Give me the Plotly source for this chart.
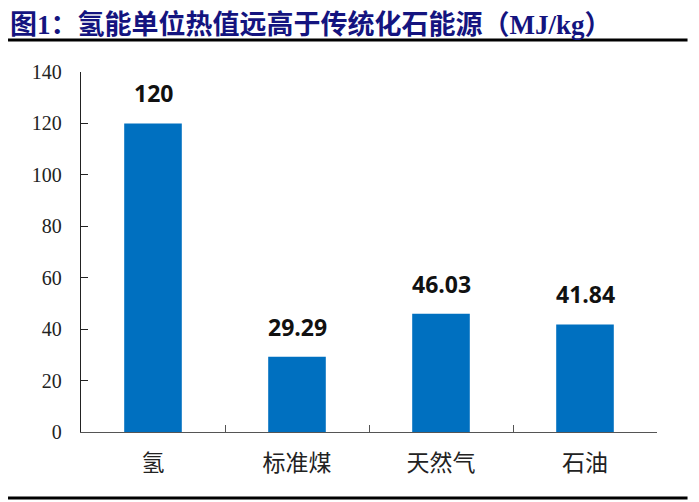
import plotly.graph_objects as go

# chart data
categories = ["氢", "标准煤", "天然气", "石油"]
values = [120, 29.29, 46.03, 41.84]
value_labels = ["120", "29.29", "46.03", "41.84"]
y_ticks = [0, 20, 40, 60, 80, 100, 120, 140]

BAR_BLUE = "#0070C0"
TITLE_NAVY = "#14147F"
AXIS_GREY = "#555555"

fig = go.Figure()

fig.add_trace(
    go.Bar(
        x=categories,
        y=values,
        marker=dict(color=BAR_BLUE, line=dict(width=0)),
        width=0.4,
        hoverinfo="x+y",
    )
)

# bold value labels above each bar
for cat, val, lab in zip(categories, values, value_labels):
    fig.add_annotation(
        x=cat, y=val, text=f"<b>{lab}</b>",
        showarrow=False, yanchor="bottom", yshift=12,
        font=dict(family="Open Sans, Liberation Sans, sans-serif", size=23, color="#111111"),
    )

# title and the two horizontal rules (paper coords reach past the plot area)
fig.add_annotation(
    xref="paper", yref="paper", x=-0.125, y=1.1775,
    xanchor="left", yanchor="top", showarrow=False, borderpad=0,
    text="<b>图1：氢能单位热值远高于传统化石能源（MJ/kg）</b>",
    font=dict(family="Liberation Serif, Noto Sans CJK SC, serif", size=27, color=TITLE_NAVY),
)
for yy in (1.089, -0.1833):
    fig.add_shape(
        type="line", xref="paper", yref="paper",
        x0=-0.1267, x1=1.053, y0=yy, y1=yy,
        line=dict(color="black", width=3),
    )

fig.update_layout(
    width=699,
    height=502,
    margin=dict(l=73, r=50, t=64, b=78),
    paper_bgcolor="white",
    plot_bgcolor="white",
    showlegend=False,
    xaxis=dict(
        type="category",
        showline=True, linecolor=AXIS_GREY, linewidth=1.3,
        ticks="inside", tickson="boundaries", ticklen=7, tickcolor=AXIS_GREY,
        showgrid=False,
        tickfont=dict(family="Noto Sans CJK SC, sans-serif", size=23, color="#222222"),
        ticklabelstandoff=10,
    ),
    yaxis=dict(
        range=[0, 140],
        tickvals=y_ticks,
        showline=True, linecolor="#222222", linewidth=1.3,
        ticks="inside", ticklen=7, tickcolor="#222222",
        showgrid=False, zeroline=False,
        tickfont=dict(family="Liberation Serif, Times New Roman, serif", size=20, color="#222222"),
        ticklabelstandoff=14,
    ),
)

fig.write_html("out.html")
